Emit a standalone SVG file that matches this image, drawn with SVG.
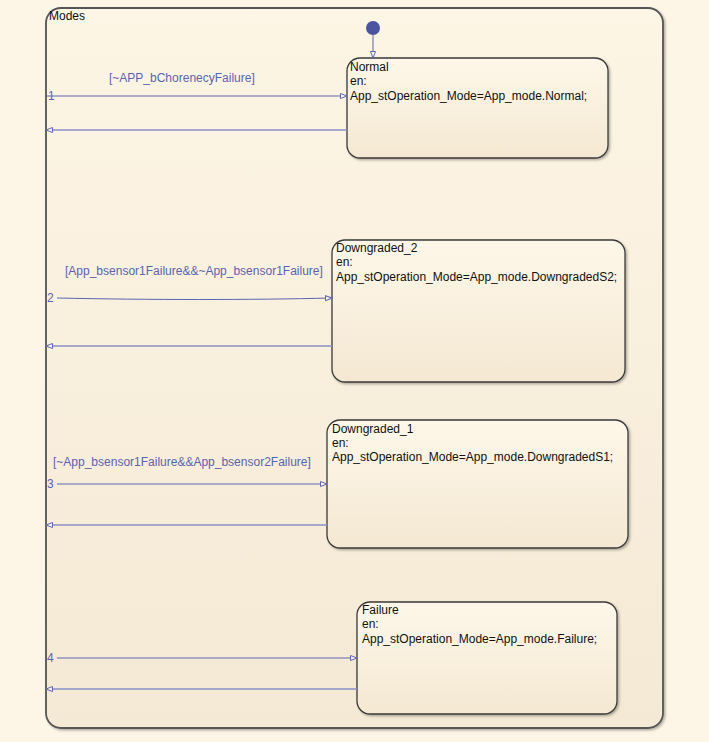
<svg xmlns="http://www.w3.org/2000/svg" width="709" height="742" viewBox="0 0 709 742">
  <style>
    .st { font-family: "Liberation Sans", Arial, sans-serif; font-size: 12px; fill: #111; }
    .lbl { font-family: "Liberation Sans", Arial, sans-serif; font-size: 12px; fill: #5a64b0; }
    .box { stroke: #3a3a3a; stroke-width: 1.3; fill: url(#stateGrad); filter: url(#shadow); }
    .tr { fill: none; stroke: #5c66b2; stroke-width: 1; }
    .ret { fill: none; stroke: #8a90c4; stroke-width: 1.5; }
  </style>
  <defs>
    <linearGradient id="stateGrad" x1="0" y1="0" x2="0" y2="1">
      <stop offset="0" stop-color="#fef7e9"/>
      <stop offset="1" stop-color="#f4e8d2"/>
    </linearGradient>
    <linearGradient id="outerGrad" x1="0" y1="0" x2="0" y2="1">
      <stop offset="0" stop-color="#fdf5e5"/>
      <stop offset="1" stop-color="#f4e9d4"/>
    </linearGradient>
    <filter id="shadow" x="-5%" y="-5%" width="115%" height="115%">
      <feDropShadow dx="1.5" dy="1.5" stdDeviation="1.2" flood-color="#000" flood-opacity="0.3"/>
    </filter>
    <marker id="arr" markerWidth="8" markerHeight="6" refX="7" refY="3" orient="auto" markerUnits="userSpaceOnUse">
      <path d="M0.5,0.5 L7,3 L0.5,5.5 Z" fill="#fdf5e6" stroke="#5c66b2" stroke-width="1"/>
    </marker>
  </defs>
  <rect x="0" y="0" width="709" height="742" fill="#fdf5e6"/>

  <g id="Modes">
    <rect x="46" y="8" width="617" height="720" rx="15" ry="15" fill="url(#outerGrad)" stroke="#555" stroke-width="1.8" filter="url(#shadow)"/>
    <text class="st" x="49" y="20">Modes</text>
  </g>

  <g id="init">
    <circle cx="373" cy="28" r="7" fill="#4a54a0"/>
  </g>

  <g id="Normal">
    <rect class="box" x="347" y="58" width="261" height="100" rx="13" ry="13"/>
    <text class="st" x="350" y="71">Normal</text>
    <text class="st" x="350" y="85">en:</text>
    <text class="st" x="350" y="100">App_stOperation_Mode=App_mode.Normal;</text>
  </g>

  <g id="Downgraded_2">
    <rect class="box" x="332" y="240" width="293" height="142" rx="13" ry="13"/>
    <text class="st" x="336" y="252">Downgraded_2</text>
    <text class="st" x="336" y="266">en:</text>
    <text class="st" x="336" y="281">App_stOperation_Mode=App_mode.DowngradedS2;</text>
  </g>

  <g id="Downgraded_1">
    <rect class="box" x="327" y="420" width="301" height="128" rx="13" ry="13"/>
    <text class="st" x="332" y="433">Downgraded_1</text>
    <text class="st" x="332" y="447">en:</text>
    <text class="st" x="332" y="461">App_stOperation_Mode=App_mode.DowngradedS1;</text>
  </g>

  <g id="Failure">
    <rect class="box" x="357" y="602" width="260" height="112" rx="13" ry="13"/>
    <text class="st" x="362" y="614">Failure</text>
    <text class="st" x="362" y="628">en:</text>
    <text class="st" x="362" y="643">App_stOperation_Mode=App_mode.Failure;</text>
  </g>

  <g id="connectors">
    <line class="tr" x1="373" y1="35" x2="373" y2="58" marker-end="url(#arr)"/>

    <line class="tr" x1="46" y1="96" x2="347" y2="96" marker-end="url(#arr)"/>
    <line class="ret" x1="347" y1="130" x2="46" y2="130" marker-end="url(#arr)"/>
    <text class="lbl" x="109" y="82">[~APP_bChorenecyFailure]</text>
    <text class="lbl" x="48" y="100">1</text>

    <path class="tr" d="M57,298 C150,300 250,300 332,298" marker-end="url(#arr)"/>
    <line class="ret" x1="332" y1="346" x2="46" y2="346" marker-end="url(#arr)"/>
    <text class="lbl" x="65" y="275">[App_bsensor1Failure&amp;&amp;~App_bsensor1Failure]</text>
    <text class="lbl" x="47" y="302">2</text>

    <line class="tr" x1="57" y1="484" x2="327" y2="484" marker-end="url(#arr)"/>
    <line class="ret" x1="327" y1="525" x2="46" y2="525" marker-end="url(#arr)"/>
    <text class="lbl" x="53" y="466">[~App_bsensor1Failure&amp;&amp;App_bsensor2Failure]</text>
    <text class="lbl" x="47" y="488">3</text>

    <line class="tr" x1="57" y1="658" x2="357" y2="658" marker-end="url(#arr)"/>
    <line class="ret" x1="357" y1="689" x2="46" y2="689" marker-end="url(#arr)"/>
    <text class="lbl" x="47" y="662">4</text>
  </g>
</svg>
